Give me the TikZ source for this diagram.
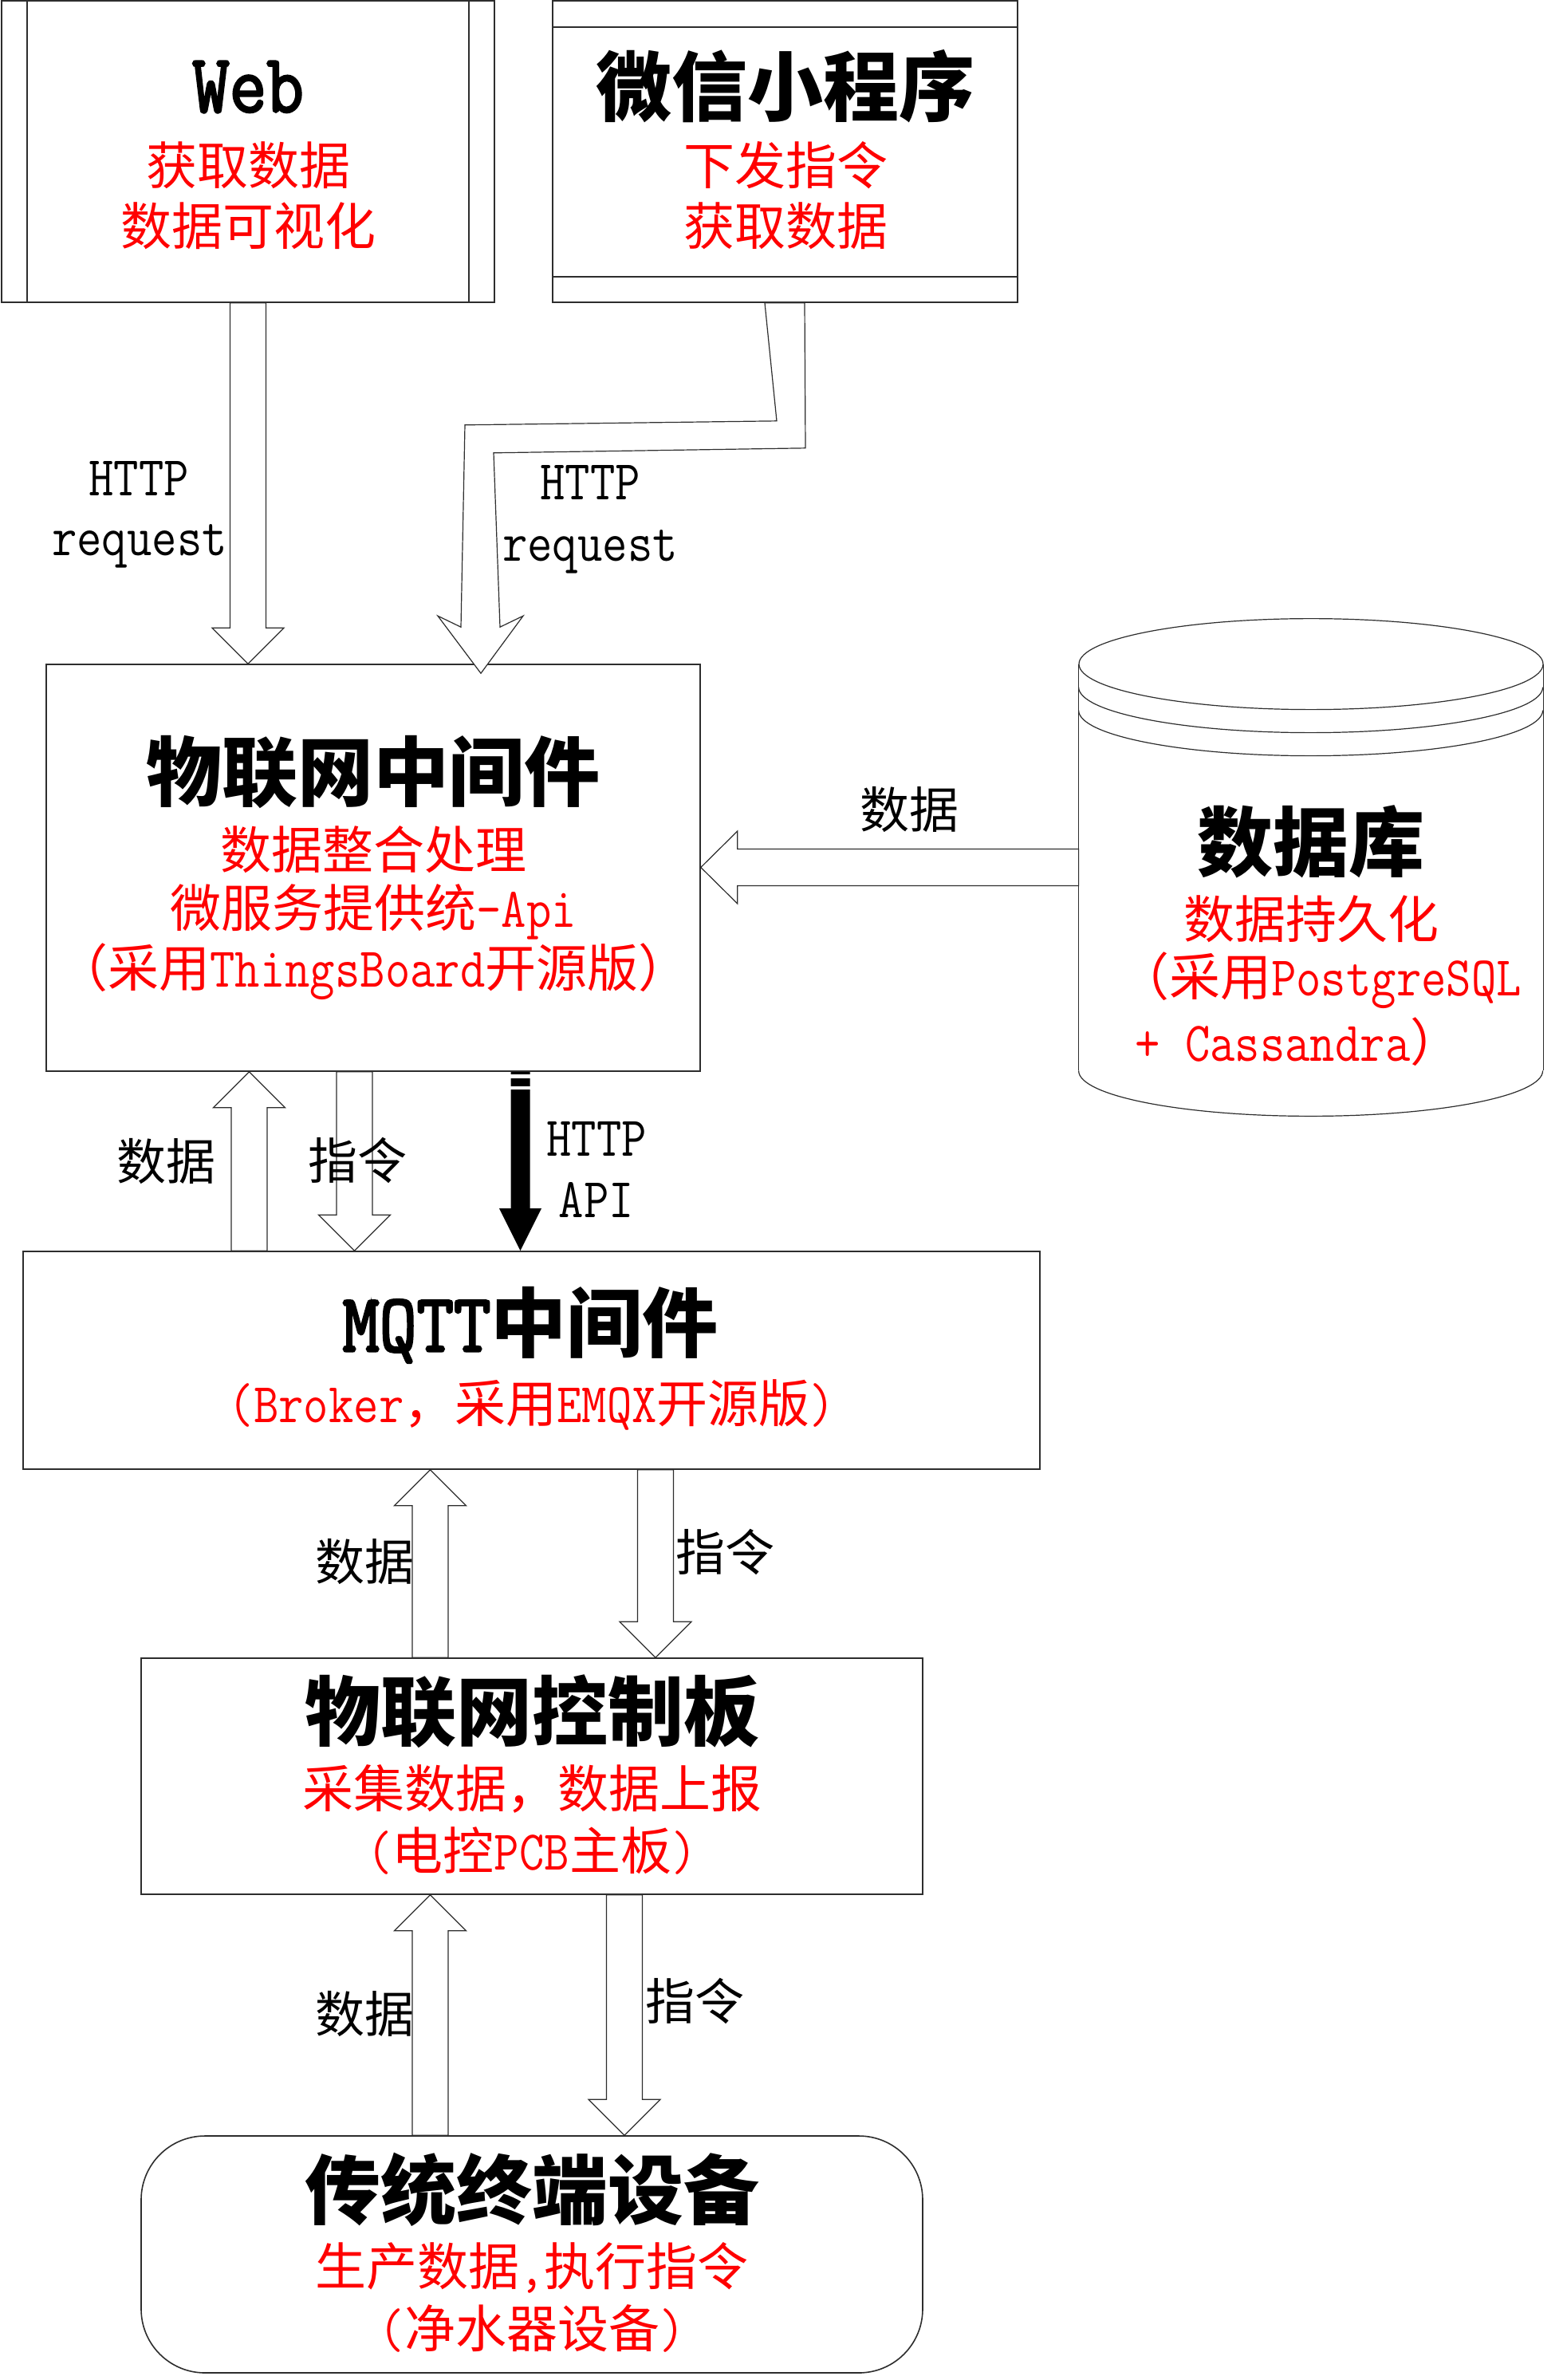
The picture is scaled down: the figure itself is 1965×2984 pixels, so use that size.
\documentclass[tikz,border=0pt]{standalone}
\usepackage{fontspec}
\setmainfont{Noto Sans CJK SC}
\newfontfamily\latf[FakeStretch=0.865,Scale=1.1,AutoFakeBold=2.5]{Latin Modern Mono}
\newcommand{\la}[1]{{\latf #1}}
\usetikzlibrary{calc}
\definecolor{edge}{RGB}{45,45,45}
\tikzset{
  box/.style={draw=edge, line width=0.8pt, inner sep=0pt, fill=white},
  edgeline/.style={draw=edge, line width=0.8pt},
  barrow/.style={draw=edge, line width=0.6pt, fill=white, line join=miter},
  ttl/.style={font=\fontsize{47.5pt}{50pt}\selectfont\bfseries, inner sep=0pt},
  redl/.style={text=red, font=\fontsize{32pt}{34pt}\selectfont, inner sep=0pt},
  lab/.style={font=\fontsize{31pt}{33pt}\selectfont, inner sep=0pt},
  latlab/.style={font=\fontsize{32pt}{34pt}\selectfont\latf, inner sep=0pt}
}
% block arrow pointing down: #1 x centre (px), #2 start anchor, #3 tip anchor
\newcommand{\bdown}[3]{%
  \path[barrow] let \p1=(#2), \p2=(#3) in
   ({(#1-22.5)*0.5pt},\y1) -- ({(#1-22.5)*0.5pt},{\y2+22.5pt}) -- ({(#1-45)*0.5pt},{\y2+22.5pt})
   -- ({#1*0.5pt},\y2) -- ({(#1+45)*0.5pt},{\y2+22.5pt}) -- ({(#1+22.5)*0.5pt},{\y2+22.5pt})
   -- ({(#1+22.5)*0.5pt},\y1) -- cycle;}
% block arrow pointing up
\newcommand{\bup}[3]{%
  \path[barrow] let \p1=(#2), \p2=(#3) in
   ({(#1-22.5)*0.5pt},\y1) -- ({(#1-22.5)*0.5pt},{\y2-22.5pt}) -- ({(#1-45)*0.5pt},{\y2-22.5pt})
   -- ({#1*0.5pt},\y2) -- ({(#1+45)*0.5pt},{\y2-22.5pt}) -- ({(#1+22.5)*0.5pt},{\y2-22.5pt})
   -- ({(#1+22.5)*0.5pt},\y1) -- cycle;}
\begin{document}
\begin{tikzpicture}[x=0.5pt,y=-0.5pt]
\useasboundingbox (0,0) rectangle (1965,2984);
\fill[white] (0,0) rectangle (1965,2984);

% ---------- boxes ----------
\node[box, minimum width=309pt, minimum height=189pt] (web) at (311,190) {};
\draw[edgeline] ([xshift=16.5pt]web.north west) -- ([xshift=16.5pt]web.south west);
\draw[edgeline] ([xshift=-16.5pt]web.north east) -- ([xshift=-16.5pt]web.south east);

\node[box, minimum width=291.5pt, minimum height=189pt] (wx) at (984.5,190) {};
\draw[edgeline] ([yshift=-17pt]wx.north west) -- ([yshift=-17pt]wx.north east);
\draw[edgeline] ([yshift=16.5pt]wx.south west) -- ([yshift=16.5pt]wx.south east);

\node[box, minimum width=410pt, minimum height=255pt] (iot) at (468,1088) {};

\node[inner sep=0pt, minimum width=291pt, minimum height=311.5pt] (db) at (1644,1087.5) {};
\draw[edgeline, line width=0.6pt] ([yshift=-28.5pt]db.north) ellipse [x radius=145.5pt, y radius=28.5pt];
\draw[edgeline, line width=0.6pt] ([yshift=-28.5pt]db.north west) -- ([yshift=28.5pt]db.south west);
\draw[edgeline, line width=0.6pt] ([yshift=-28.5pt]db.north east) -- ([yshift=28.5pt]db.south east);
\draw[edgeline, line width=0.6pt] ([yshift=28.5pt]db.south west) arc[start angle=180, end angle=360, x radius=145.5pt, y radius=28.5pt];
\draw[edgeline, line width=0.6pt] ([yshift=-43pt]db.north west) arc[start angle=180, end angle=360, x radius=145.5pt, y radius=28.5pt];
\draw[edgeline, line width=0.6pt] ([yshift=-57.5pt]db.north west) arc[start angle=180, end angle=360, x radius=145.5pt, y radius=28.5pt];

\node[box, minimum width=637.5pt, minimum height=136.5pt] (mqtt) at (666.5,1705.5) {};
\node[box, minimum width=490pt, minimum height=148pt] (ctrl) at (667,2227) {};
\node[box, rounded corners=40pt, minimum width=490pt, minimum height=148.5pt] (dev) at (667,2826.5) {};

% ---------- texts ----------
\node[ttl] (webT) at (311,109) {\la{Web}};
\node[redl] (webR1) at (311,207) {获取数据};
\node[redl] (webR2) at (311,283) {数据可视化};

\node[ttl] (wxT) at (985,108) {微信小程序};
\node[redl] (wxR1) at (985,207) {下发指令};
\node[redl] (wxR2) at (985,283) {获取数据};

\node[ttl] (iotT) at (468,968) {物联网中间件};
\node[redl] (iotR1) at (468,1065) {数据整合处理};
\node[redl] (iotR2) at (468,1143) {微服务提供统\la{-Api}};
\node[redl] (iotR3) at (468,1218) {（采用\la{ThingsBoard}开源版）};

\node[ttl] (dbT) at (1644,1055) {数据库};
\node[redl] (dbR1) at (1644,1152) {数据持久化};
\node[redl] (dbR2) at (1655,1229) {（采用\la{PostgreSQL}};
\node[redl] (dbR3) at (1628,1306) {\la{+ Cassandra}）};

\node[ttl] (mqttT) at (665,1661) {\la{MQTT}中间件};
\node[redl] (mqttR1) at (667,1761) {\la{(Broker}，采用\la{EMQX}开源版\la{)}};

\node[ttl] (ctrlT) at (667,2146) {物联网控制板};
\node[redl] (ctrlR1) at (667,2243) {采集数据，数据上报};
\node[redl] (ctrlR2) at (667,2320) {\la{(}电控\la{PCB}主板\la{)}};

\node[ttl] (devT) at (667,2745) {传统终端设备};
\node[redl] (devR1) at (667,2843) {生产数据\la{,}执行指令};
\node[redl] (devR2) at (667,2919) {\la{(}净水器设备\la{)}};

% ---------- arrows ----------
% Web -> IoT middleware
\bdown{311}{web.south}{iot.north}
% WeChat -> IoT middleware (bent)
\path[barrow] let \p1=(wx.south), \p2=(iot.north) in
  ({959*0.5pt},\y1) -- ({974*0.5pt},{\y1-74pt}) -- ({583*0.5pt},{\y1-76.5pt})
  -- ({578*0.5pt},{\y2+23pt}) -- ({549*0.5pt},{\y2+30pt}) -- ({603*0.5pt},{\y2-6pt})
  -- ({656*0.5pt},{\y2+30pt}) -- ({627*0.5pt},{\y2+23pt}) -- ({619*0.5pt},{\y1-94pt})
  -- ({1010*0.5pt},{\y1-91pt}) -- ({1009*0.5pt},\y1) -- cycle;
% database -> IoT middleware
\path[barrow] let \p1=(db.west), \p2=(iot.east) in
  (\x1,{\y1+11.5pt}) -- ({\x2+23pt},{\y1+11.5pt}) -- ({\x2+23pt},{\y1+22.75pt}) -- (\x2,\y1)
  -- ({\x2+23pt},{\y1-22.75pt}) -- ({\x2+23pt},{\y1-11.5pt}) -- (\x1,{\y1-11.5pt}) -- cycle;
% IoT middleware <-> MQTT
\bup{312.5}{mqtt.north}{iot.south}
\bdown{444.5}{iot.south}{mqtt.north}
\path[fill=black] let \p1=(iot.south), \p2=(mqtt.north) in
  ({640.5*0.5pt},\y1) -- ({640.5*0.5pt},{\y2+26.5pt}) -- ({626*0.5pt},{\y2+26.5pt}) -- ({652.5*0.5pt},\y2)
  -- ({679*0.5pt},{\y2+26.5pt}) -- ({664.5*0.5pt},{\y2+26.5pt}) -- ({664.5*0.5pt},\y1) -- cycle;
\draw[white, line width=2.5pt] (636,1349.5) -- (669,1349.5);
\draw[white, line width=2pt] (636,1364) -- (669,1364);
% MQTT <-> control board
\bup{539.5}{ctrl.north}{mqtt.south}
\bdown{822}{mqtt.south}{ctrl.north}
% control board <-> device
\bup{539.5}{dev.north}{ctrl.south}
\bdown{783}{ctrl.south}{dev.north}

% ---------- connector labels ----------
\node[latlab] (h1a) at (174,600) {HTTP};
\node[latlab] (h1b) at (175,685) {request};
\node[latlab] (h2a) at (740,605) {HTTP};
\node[latlab] (h2b) at (740,692) {request};
\node[lab] (dbL) at (1140,1015) {数据};
\node[lab] (l1) at (208,1456) {数据};
\node[lab] (l2) at (448,1455) {指令};
\node[latlab] (h3a) at (748,1428) {HTTP};
\node[latlab] (h3b) at (748,1504) {API};
\node[lab] (l3) at (457,1958) {数据};
\node[lab] (l4) at (909,1946) {指令};
\node[lab] (l5) at (457,2525) {数据};
\node[lab] (l6) at (871,2509) {指令};
\end{tikzpicture}
\end{document}
